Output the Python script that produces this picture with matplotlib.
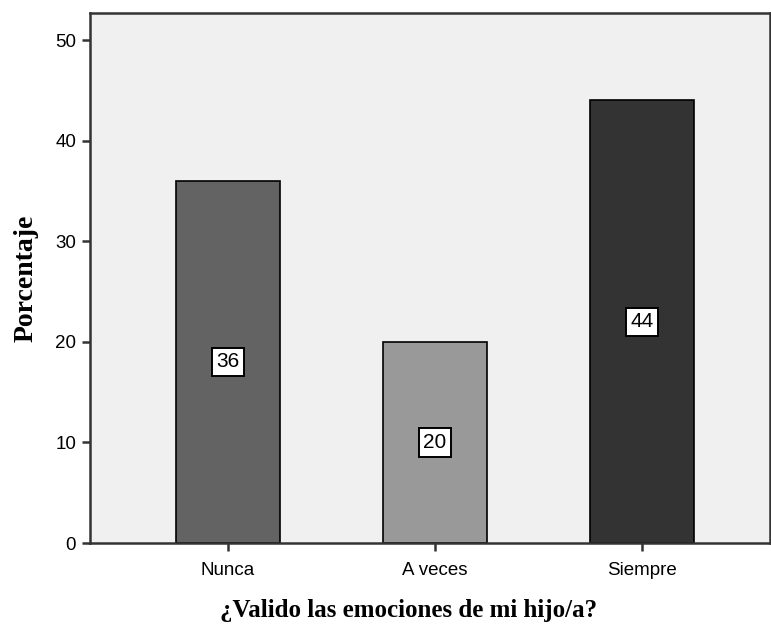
import numpy as np
import matplotlib
matplotlib.use('Agg')
import matplotlib.pyplot as plt

# Porcentaje de respuestas por categoria
categorias = ['Nunca', 'A veces', 'Siempre']
porcentajes = [36, 20, 44]
colores = ['#636363', '#999999', '#333333']
yticks = [0, 10, 20, 30, 40, 50]

fig = plt.figure(figsize=(7.71, 6.28), dpi=100)
ax = fig.add_axes([90/771, 85/628, 680/771, 530/628])
ax.set_facecolor('#f0f0f0')

x = np.arange(len(categorias))
ax.bar(x, porcentajes, width=0.5, color=colores, edgecolor='black', linewidth=1.2, zorder=2)

# Etiquetas de valor en el centro de cada barra
for xi, v in zip(x, porcentajes):
    ax.text(xi, v / 2, str(v), ha='center', va='center', fontsize=15,
            family='Liberation Sans', zorder=3,
            bbox=dict(boxstyle='square,pad=0.22', fc='white', ec='black', lw=1.4))

ax.set_xlim(-0.667, 2.618)
ax.set_ylim(0, 52.7)
ax.set_xticks(x)
ax.set_xticklabels(categorias, family='Liberation Sans', fontsize=13.5)
ax.set_yticks(yticks)
ax.set_yticklabels([str(t) for t in yticks], family='Liberation Sans', fontsize=13.5)
ax.tick_params(direction='out', length=6, width=1.8, color='#333333')
ax.tick_params(axis='x', pad=8)
ax.tick_params(axis='y', pad=4)

for s in ax.spines.values():
    s.set_linewidth(1.8)
    s.set_color('#333333')

ax.set_xlabel('¿Valido las emociones de mi hijo/a?', family='Liberation Serif',
              fontweight='bold', fontsize=18, labelpad=12)
ax.xaxis.set_label_coords(0.468, -0.105)
ax.set_ylabel('Porcentaje', family='Liberation Serif', fontweight='bold',
              fontsize=20, labelpad=12)

plt.savefig('out.png', dpi=100)
